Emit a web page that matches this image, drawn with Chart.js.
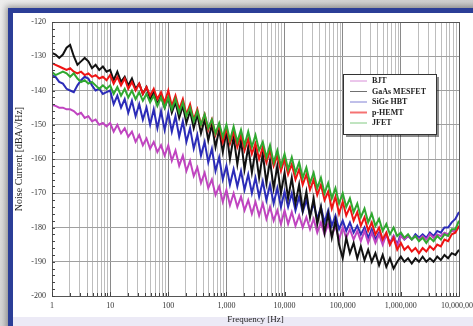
<!DOCTYPE html>
<html><head><meta charset="utf-8">
<script src="https://cdn.jsdelivr.net/npm/chart.js@4.4.1/dist/chart.umd.min.js"></script>
<style>
html,body{margin:0;padding:0;width:473px;height:326px;overflow:hidden;background:#d4d4d4;}
#bg{position:absolute;left:0;top:0;width:473px;height:326px;background:linear-gradient(135deg,#ededed 0%,#d2d2d2 45%,#c9c9c9 100%);}
#frame{position:absolute;left:8px;top:8px;width:480px;height:340px;border:5px solid #2b3e97;background:#fff;box-shadow:0 0 6px 2px rgba(0,0,0,0.35);}
#low{position:absolute;left:13px;top:317px;width:470px;height:20px;background:#eceaf6;}
#wrap{position:absolute;left:0;top:0;width:473px;height:326px;}
</style></head><body>
<div id="bg"></div><div id="frame"></div><div id="low"></div>
<div id="wrap"><canvas id="c" width="473" height="326" style="width:473px;height:326px"></canvas></div>
<script>
// Frequencies [Hz]
const freqs = [
 1,1.15,1.33,1.54,1.78,2.05,2.37,2.74,3.16,3.65,4.22,4.87,5.62,6.49,7.5,8.66,
 10,11.5,13.3,15.4,17.8,20.5,23.7,27.4,31.6,36.5,42.2,48.7,56.2,64.9,75,86.6,
 100,115,133,154,178,205,237,274,316,365,422,487,562,649,750,866,
 1000,1150,1330,1540,1780,2050,2370,2740,3160,3650,4220,4870,5620,6490,7500,8660,
 1e4,1.15e4,1.33e4,1.54e4,1.78e4,2.05e4,2.37e4,2.74e4,3.16e4,3.65e4,4.22e4,4.87e4,5.62e4,6.49e4,7.5e4,8.66e4,
 1e5,1.15e5,1.33e5,1.54e5,1.78e5,2.05e5,2.37e5,2.74e5,3.16e5,3.65e5,4.22e5,4.87e5,5.62e5,6.49e5,7.5e5,8.66e5,
 1e6,1.15e6,1.33e6,1.54e6,1.78e6,2.05e6,2.37e6,2.74e6,3.16e6,3.65e6,4.22e6,4.87e6,5.62e6,6.49e6,7.5e6,8.66e6,1e7
];
const seriesNames = ['BJT','GaAs MESFET','SiGe HBT','p-HEMT','JFET'];
// Noise current [dBA/sqrt(Hz)]
const bjt = [
 -144.2,-144.5,-145,-145,-145.5,-145.5,-146,-147,-146.5,-148,-147.5,-149,-148.5,-150,-149.5,-150.5,
 -149.5,-152,-150,-152.5,-151,-153.5,-152,-155,-153,-156,-154,-157,-155,-158,-156,-159,
 -156,-160.5,-157.5,-162,-159,-163.5,-160.5,-165,-162.5,-167,-164,-168.5,-166,-170.5,-168,-172.5,
 -169,-173.5,-170,-174,-171,-175,-172,-176,-172.5,-176.5,-173,-177.5,-174,-178,-175,-179,
 -175,-179,-175.5,-179.5,-176.5,-180,-177,-180.5,-177.5,-181.5,-178.5,-182,-179,-182.5,-179.5,-183.5,
 -180,-183,-180.5,-183.5,-181,-184,-181,-184.5,-181.5,-184.5,-182,-185,-182,-185,-182.5,-185.5,
 -182.5,-183.5,-182.5,-183.5,-182.5,-183.5,-182.5,-183.5,-182,-183,-182,-182.5,-181.5,-182,-181,-181,-180
];
const gaas = [
 -129,-129.5,-130.5,-129.5,-127.5,-126.7,-130,-132.5,-131.5,-130.5,-131.5,-133.5,-132.5,-134,-133,-134.5,
 -134,-137,-134.5,-137.5,-136,-138.5,-136.5,-139.5,-138,-141,-139,-142.5,-140.5,-144,-141.5,-145,
 -142,-146.5,-143.5,-148,-144.5,-149.5,-146,-151,-147,-152.5,-148.5,-154.5,-150,-156.5,-151.5,-158,
 -152,-160,-153.5,-161.5,-154.5,-163,-156.5,-164,-157.5,-165.5,-158.5,-167,-160.5,-168.5,-162,-170,
 -164,-171.5,-165.5,-173,-167.5,-175,-169.5,-177,-171.5,-179,-174,-181.5,-176,-183,-178,-185,
 -189,-183,-187.5,-184.5,-189,-185.5,-189.5,-186.5,-190,-187.5,-191,-188,-191.5,-189,-192,-190,
 -188.5,-190,-189,-190.5,-189,-190,-188.5,-190,-189,-190,-188.5,-189.5,-188,-189,-187.5,-188,-186.5
];
const sige = [
 -135.5,-136,-137.5,-138,-139.5,-140,-140.5,-138.5,-137,-136,-136.5,-138.5,-140,-139.5,-141,-140.5,
 -140,-144,-141.5,-145,-142.5,-146.5,-143,-147.5,-144,-148.5,-145,-150,-145.5,-151,-146,-151.5,
 -146.5,-152,-147.5,-153.5,-149,-155,-151,-157,-153,-159,-155,-161,-157,-163.5,-159.5,-166,
 -162,-167.5,-163,-168,-163.5,-169,-164.5,-170,-165.5,-171,-166.5,-172,-167.5,-173,-168.5,-174,
 -169.5,-174,-170,-175,-171,-175.5,-172,-176.5,-173,-177.5,-174,-178.5,-175,-179.5,-176.5,-180.5,
 -178,-181,-178.5,-181.5,-179.5,-182,-180,-183,-180.5,-183.5,-181.5,-184,-182,-184.5,-182.5,-185,
 -182,-183.5,-182.5,-183.5,-182,-183,-182,-183,-181.5,-182.5,-181,-181.5,-180,-180,-178.5,-177.5,-175.5
];
const phemt = [
 -132,-132.5,-133,-133.5,-134,-133.5,-134.5,-135,-134.5,-135.5,-135,-136,-135.5,-136.5,-136,-137,
 -135.5,-138,-136,-138.5,-136.5,-139.5,-137.5,-140,-138,-141,-139,-141.5,-139.5,-142.5,-140.5,-143.5,
 -140,-144.5,-141.5,-145.5,-142.5,-147,-144,-148.5,-145.5,-150,-147,-151.5,-148.5,-153,-150,-155,
 -151,-155.5,-152,-156.5,-153,-157.5,-154,-158.5,-155.5,-160,-156.5,-161,-157.5,-162,-159,-163.5,
 -160,-164.5,-161.5,-166,-163,-167.5,-164.5,-169,-166,-170.5,-167.5,-172,-169.5,-174.5,-171,-176,
 -172.5,-176.5,-174,-178,-175.5,-179.5,-177,-181,-178.5,-182,-180,-183.5,-181.5,-185,-183,-186.5,
 -184.5,-186.5,-185.5,-187,-186,-187.5,-186,-187,-185.5,-186.5,-185,-185.5,-183.5,-184,-182,-181.5,-179.5
];
const jfet = [
 -134.6,-135.5,-135,-134.5,-135,-136,-135,-136.5,-137.5,-137,-138,-137.5,-138.5,-139.5,-138.5,-139.5,
 -138.5,-141,-139,-141.5,-139.5,-142,-140,-142.5,-140.5,-143,-141,-143.5,-141.5,-144.5,-142,-145,
 -142,-145.5,-142.5,-146.5,-143.5,-147.5,-145,-149,-146,-150,-147,-151,-148.5,-152.5,-149.5,-153.5,
 -150,-154.5,-150.5,-155,-151.5,-156,-152,-156.5,-153,-157.5,-155,-159.5,-156,-161,-157.5,-162,
 -158.5,-163,-159.5,-164,-161,-165.5,-162.5,-167,-164,-168.5,-165.5,-170,-167,-171.5,-168.5,-173,
 -170,-174,-171.5,-175.5,-173,-177,-174.5,-178.5,-176,-179.5,-177.5,-181,-179,-182,-180,-182.5,
 -181.5,-183,-182,-183.5,-182.5,-184,-183,-184.5,-183,-184,-182.5,-183.5,-182,-182.5,-180.5,-180.5,-178
];
const decades = [1,10,100,1000,1e4,1e5,1e6,1e7];
const xTickLabels = ['1','10','100','1,000','10,000','100,000','1,000,000','10,000,000'];
const yMin = -200, yMax = -120, yStep = 10;

const allSeries = [bjt, gaas, sige, phemt, jfet];
const colors = ['#c044c0', '#111111', '#2b2bb8', '#ee1414', '#30a830'];
const drawOrder = [3, 2, 4, 1, 0];
const isDecade = v => decades.some(d => Math.abs(d - v) < d * 1e-6);
const SERIF = "'Liberation Serif', 'DejaVu Serif', serif";

const overlay = {
  id: 'overlay',
  afterDatasetsDraw(chart) {
    const {ctx, chartArea: a, scales: {x, y}} = chart;
    ctx.save();
    ctx.strokeStyle = '#555';
    ctx.lineWidth = 1;
    ctx.strokeRect(Math.round(a.left) + 0.5, Math.round(a.top) + 0.5, Math.round(a.right - a.left), Math.round(a.bottom - a.top));
    // minor ticks
    ctx.strokeStyle = '#444';
    ctx.beginPath();
    for (let v = yMin; v <= yMax; v += 2) {
      const py = Math.round(y.getPixelForValue(v)) + 0.5;
      ctx.moveTo(a.left, py); ctx.lineTo(a.left + 3, py);
    }
    x.ticks.forEach(t => {
      const px = Math.round(x.getPixelForValue(t.value)) + 0.5;
      ctx.moveTo(px, a.bottom); ctx.lineTo(px, a.bottom - (isDecade(t.value) ? 4 : 3));
    });
    ctx.stroke();
    // legend box
    const lx = 343, ly = 74, lw = 93, lh = 60;
    ctx.fillStyle = 'rgba(0,0,0,0.45)';
    ctx.fillRect(lx + 3, ly + 3, lw, lh);
    ctx.fillStyle = '#fff';
    ctx.fillRect(lx, ly, lw, lh);
    ctx.strokeStyle = '#333';
    ctx.strokeRect(lx + 0.5, ly + 0.5, lw, lh);
    ctx.font = 'bold 8px ' + SERIF;
    ctx.textBaseline = 'middle';
    chart.data.datasets.forEach((ds, i) => {
      const ry = ly + 7 + i * 10.5;
      ctx.strokeStyle = ds.borderColor;
      ctx.globalAlpha = 0.6;
      ctx.lineWidth = i === 3 ? 2 : 1;
      ctx.beginPath(); ctx.moveTo(lx + 7, ry); ctx.lineTo(lx + 24, ry); ctx.stroke();
      ctx.globalAlpha = 1;
      ctx.fillStyle = '#222';
      ctx.fillText(ds.label, lx + 29, ry);
    });
    ctx.restore();
  }
};

new Chart(document.getElementById('c'), {
  type: 'line',
  data: {
    datasets: allSeries.map((s, i) => ({
      label: seriesNames[i],
      data: freqs.map((f, j) => ({x: f, y: s[j]})),
      borderColor: colors[i],
      borderWidth: 2,
      pointRadius: 0,
      tension: 0,
      fill: false,
      order: drawOrder[i]
    }))
  },
  options: {
    responsive: false,
    animation: false,
    devicePixelRatio: 1,
    layout: {padding: {left: 0, right: 14, top: 22, bottom: 0}},
    plugins: {legend: {display: false}, tooltip: {enabled: false}},
    scales: {
      x: {
        type: 'logarithmic', min: 1, max: 1e7, position: 'bottom',
        afterBuildTicks: s => {
          s.ticks = s.ticks.filter(t => {
            const e = Math.floor(Math.log10(t.value) + 1e-9);
            const m = t.value / Math.pow(10, e);
            return Math.abs(m - Math.round(m)) < 1e-6;
          });
        },
        ticks: {
          autoSkip: false, maxRotation: 0, minRotation: 0, padding: 5,
          font: {family: SERIF, size: 8}, color: '#333',
          callback: v => { const i = decades.findIndex(d => Math.abs(d - v) < d * 1e-6); return i >= 0 ? xTickLabels[i] : ''; }
        },
        grid: {color: c => isDecade(c.tick.value) ? '#8a8a8a' : '#bdbdbd', lineWidth: 1, drawTicks: false},
        border: {color: '#555'},
        title: {display: true, text: 'Frequency [Hz]', font: {family: SERIF, size: 9}, color: '#222', padding: {top: 0, bottom: 1}},
        afterFit: s => { s.height = 30; s.paddingLeft = 0; s.paddingRight = 0; }
      },
      y: {
        min: yMin, max: yMax,
        ticks: {stepSize: yStep, padding: 6, font: {family: SERIF, size: 8}, color: '#333'},
        grid: {color: '#a0a0a0', lineWidth: 1, drawTicks: false},
        border: {color: '#555'},
        title: {display: true, text: 'Noise Current [dBA/√Hz]', font: {family: SERIF, size: 10}, color: '#222', padding: {top: 13, bottom: 0}},
        afterFit: s => { s.width = 52; s.paddingTop = 0; s.paddingBottom = 0; }
      }
    }
  },
  plugins: [overlay]
});
</script>
</body></html>
